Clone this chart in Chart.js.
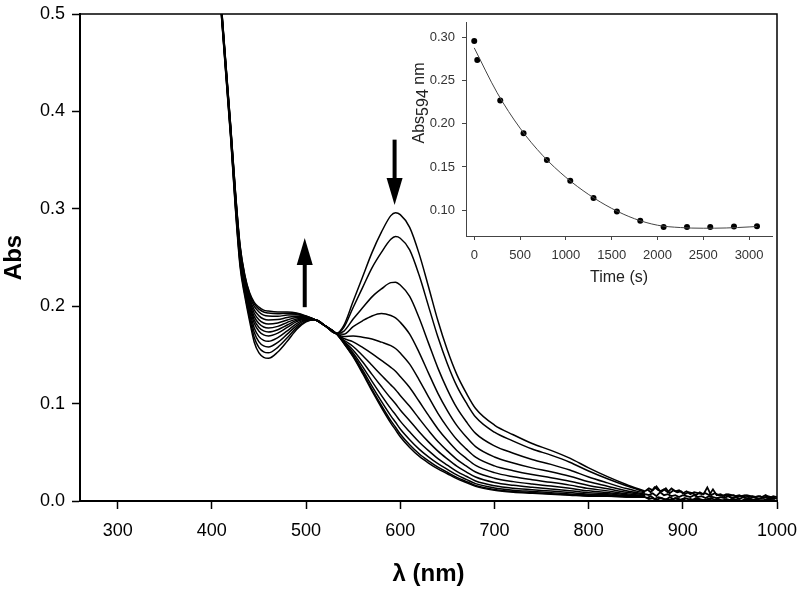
<!DOCTYPE html>
<html><head><meta charset="utf-8">
<script src="https://cdn.jsdelivr.net/npm/chart.js@4"></script>
<style>
html,body{margin:0;padding:0;background:#fff;}
#wrap{position:relative;width:800px;height:591px;overflow:hidden;}
#main{position:absolute;left:0;top:0;}
#inset{position:absolute;left:400px;top:0;}
</style></head><body>
<div id="wrap"><canvas id="main" width="800" height="591"></canvas><canvas id="inset" width="400" height="300"></canvas></div>
<script>
// ---------- main spectra data ----------
const wavelengths = [400,410,420,425,430,435,440,445,450,455,460,470,480,490,500,510,520,532,540,550,560,570,580,590,595,600,610,620,630,640,650,660,670,680,700,720,740,760,780,800,820,840,860];

const spectrum01 = [.65,.500,.372,.300,.240,.210,.185,.163,.152,.1475,.1465,.153,.164,.176,.184,.186,.180,.172,.180,.205,.230,.255,.276,.293,.296,.294,.281,.254,.220,.185,.155,.130,.111,.095,.078,.068,.059,.052,.044,.034,.025,.017,.010];
const spectrum02 = [.65,.501,.3735,.302,.2426,.2126,.1884,.1678,.1575,.1531,.1521,.1578,.1675,.1780,.1847,.186,.180,.172,.1780,.1987,.2191,.2394,.2553,.2687,.2715,.2698,.2579,.2320,.2001,.1683,.1410,.1182,.1009,.0862,.0706,.0615,.0534,.0471,.0398,.0308,.0228,.0156,.0093];
const spectrum03 = [.65,.502,.375,.3044,.2453,.2153,.1920,.1729,.1634,.1592,.1582,.1629,.1713,.1801,.1855,.186,.180,.172,.1742,.1868,.1983,.2096,.2177,.2242,.2246,.2217,.2100,.1881,.1621,.1364,.1144,.0958,.0816,.0694,.0566,.0491,.0427,.0376,.0318,.0247,.0186,.0128,.0081];
const spectrum04 = [.65,.504,.377,.3064,.2479,.2179,.1954,.1777,.1688,.1649,.1639,.1677,.1747,.1821,.1861,.186,.180,.172,.1712,.1790,.1850,.1900,.1925,.1905,.1880,.1835,.1713,.1526,.1313,.1105,.0928,.0776,.0659,.0558,.0452,.0391,.0340,.0300,.0254,.0198,.0152,.0106,.0071];
const spectrum05 = [.65,.505,.378,.3085,.2504,.2204,.1988,.1824,.1743,.1705,.1695,.1724,.1782,.1841,.1868,.186,.180,.172,.1688,.1694,.1681,.1663,.1631,.1595,.1566,.1519,.1405,.1244,.1069,.0900,.0756,.0631,.0535,.0450,.0361,.0311,.0271,.0239,.0203,.0159,.0125,.0089,.0063];
const spectrum06 = [.65,.506,.379,.310,.2523,.2223,.2012,.1859,.1782,.1746,.1736,.1759,.1807,.1855,.1873,.186,.180,.172,.1669,.1634,.1577,.1513,.1443,.1372,.1332,.1278,.1166,.1024,.0879,.0740,.0623,.0519,.0438,.0366,.0291,.0249,.0218,.0192,.0163,.0128,.0104,.0075,.0056];
const spectrum07 = [.65,.506,.380,.3116,.2541,.2241,.2036,.1893,.1822,.1786,.1776,.1793,.1833,.1869,.1879,.186,.180,.172,.1653,.1586,.1493,.1393,.1291,.1192,.1143,.1084,.0972,.0847,.0725,.0611,.0515,.0428,.0360,.0298,.0234,.0199,.0174,.0153,.0130,.0104,.0087,.0064,.0051];
const spectrum08 = [.65,.507,.381,.313,.256,.226,.2061,.1928,.1861,.1827,.1817,.1828,.1858,.1883,.1884,.186,.180,.172,.1642,.1548,.1429,.1300,.1175,.1054,.0998,.0935,.0824,.0711,.0607,.0512,.0432,.0358,.0300,.0246,.0190,.0161,.0141,.0124,.0106,.0085,.0074,.0056,.0047];
const spectrum09 = [.65,.508,.3825,.3146,.2578,.2278,.2085,.1963,.1901,.1868,.1858,.1863,.1883,.1898,.1889,.186,.180,.172,.1633,.1520,.1379,.1229,.1085,.0948,.0886,.0820,.0710,.0606,.0517,.0436,.0369,.0305,.0254,.0206,.0157,.0131,.0116,.0102,.0087,.0070,.0064,.0049,.0044];
const spectrum10 = [.65,.509,.3835,.3161,.2597,.2297,.2110,.1997,.1941,.1909,.1899,.1897,.1909,.1912,.1894,.186,.180,.172,.1626,.1500,.1345,.1180,.1023,.0874,.0808,.0740,.0630,.0533,.0453,.0383,.0325,.0268,.0222,.0178,.0134,.0111,.0098,.0086,.0073,.0060,.0057,.0045,.0042];
const spectrum11 = [.65,.510,.3845,.3172,.2611,.2311,.2128,.2023,.1970,.1940,.1930,.1923,.1927,.1923,.1897,.186,.180,.172,.1622,.1487,.1322,.1147,.0982,.0825,.0757,.0688,.0577,.0485,.0412,.0348,.0295,.0243,.0201,.0160,.0118,.0097,.0086,.0075,.0065,.0054,.0052,.0042,.0041];
const spectrum12 = [.65,.510,.385,.318,.262,.232,.214,.204,.199,.196,.195,.194,.194,.193,.190,.186,.180,.172,.162,.148,.131,.113,.096,.080,.073,.066,.055,.046,.039,.033,.028,.023,.019,.015,.011,.009,.008,.007,.006,.005,.005,.004,.004];

// noisy baseline beyond ~860 nm
const tailWavelengthsA = [860,864,868,872,876,880,884,888,892,896,900,904,908,912,916,920,924,928,932,936,940,944,948,952,956,960,964,968,972,976,980,984,988,992,996,1000];
const tailWavelengthsB = [862,866,870,874,878,882,886,890,894,898,902,906,910,914,918,922,926,930,934,938,942,946,950,954,958,962,966,970,974,978,982,986,990,994,998];
const tailUpperA  = [.010,.013,.011,.015,.010,.012,.009,.013,.010,.011,.008,.010,.007,.009,.008,.007,.008,.006,.012,.006,.007,.005,.007,.006,.005,.006,.004,.006,.005,.004,.005,.004,.006,.003,.005,.004];
const tailMiddleA = [.007,.006,.008,.005,.009,.006,.007,.005,.006,.004,.006,.005,.004,.006,.004,.005,.003,.005,.004,.003,.004,.003,.005,.003,.004,.002,.004,.003,.003,.004,.002,.003,.004,.002,.003,.003];
const tailLowerA  = [.004,.002,.003,.001,.003,.002,.002,.001,.003,.001,.002,.000,.002,.001,.002,.001,.001,.002,.000,.002,.001,.001,.000,.002,.001,.001,.000,.001,.002,.000,.001,.001,.000,.001,.001,.000];
const tailUpperB  = [.012,.009,.014,.011,.010,.013,.008,.011,.009,.010,.007,.009,.008,.006,.009,.007,.014,.006,.008,.006,.005,.007,.005,.006,.004,.005,.006,.004,.005,.004,.005,.003,.005,.004,.003];
const tailLowerB  = [.003,.005,.002,.004,.003,.001,.004,.002,.003,.001,.003,.002,.001,.003,.002,.001,.002,.003,.001,.002,.000,.002,.001,.002,.001,.000,.002,.001,.001,.002,.000,.001,.002,.001,.001];

const xTickValues = [300,400,500,600,700,800,900,1000];
const yTickValues = [0,0.1,0.2,0.3,0.4,0.5];

// arrows (annotation, in data coordinates: wavelength, from Abs, to Abs)
const arrows = [
  {wl: 498.6, from: 0.199, to: 0.270},
  {wl: 594.0, from: 0.371, to: 0.304}
];

// ---------- inset data ----------
const timeS  = [0, 33, 284, 538, 793, 1048, 1302, 1557, 1812, 2067, 2322, 2576, 2835, 3086];
const abs594 = [0.296, 0.274, 0.227, 0.189, 0.158, 0.134, 0.114, 0.0985, 0.0876, 0.0803, 0.0803, 0.0803, 0.081, 0.0813];
const fitTime = [0, 250, 500, 750, 1000, 1250, 1500, 1750, 2000, 2250, 2500, 2750, 3000, 3086];
const fitAbs  = [0.288, 0.236, 0.195, 0.163, 0.138, 0.118, 0.102, 0.090, 0.0825, 0.0798, 0.0790, 0.0793, 0.0805, 0.081];
const insetXTicks = [0,500,1000,1500,2000,2500,3000];
const insetYTicks = [0.10,0.15,0.20,0.25,0.30];
const insetYTitle = [{text:'Abs', sub:false},{text:'594', sub:true},{text:' nm', sub:false}];

// ---------- build main chart ----------
const FONT = '"Liberation Sans", Arial, sans-serif';
const spectra = [spectrum01,spectrum02,spectrum03,spectrum04,spectrum05,spectrum06,spectrum07,spectrum08,spectrum09,spectrum10,spectrum11,spectrum12];
const mainSets = spectra.map(s => ({
  data: wavelengths.map((w,i)=>({x:w, y:s[i]})),
  borderColor:'#000', borderWidth:1.5, pointRadius:0, fill:false,
  cubicInterpolationMode:'monotone'
}));
[[tailWavelengthsA, tailUpperA],[tailWavelengthsA, tailMiddleA],[tailWavelengthsA, tailLowerA],
 [tailWavelengthsB, tailUpperB],[tailWavelengthsB, tailLowerB]].forEach(([xs, t]) => mainSets.push({
  data: xs.map((w,i)=>({x:w, y:t[i]})),
  borderColor:'#000', borderWidth:1.8, pointRadius:0, fill:false, tension:0
}));

const noScalePad = s => { s.paddingTop = 0; s.paddingBottom = 0; s.paddingLeft = 0; s.paddingRight = 0; };

const framePlugin = {
  id:'frame',
  afterDatasetsDraw(chart){
    const {ctx, chartArea:a, scales} = chart;
    const xs = scales.x, ys = scales.y;
    ctx.save();
    ctx.fillStyle = '#000'; ctx.strokeStyle = '#000';
    arrows.forEach(ar => {
      const x = xs.getPixelForValue(ar.wl);
      const y0 = ys.getPixelForValue(ar.from);
      const y1 = ys.getPixelForValue(ar.to);
      const dir = Math.sign(y1 - y0);
      const headLen = 27, headHalf = 8;
      ctx.lineWidth = 4; ctx.lineCap = 'butt';
      ctx.beginPath(); ctx.moveTo(x, y0); ctx.lineTo(x, y1 - dir*headLen + dir*2); ctx.stroke();
      ctx.beginPath();
      ctx.moveTo(x, y1);
      ctx.lineTo(x - headHalf, y1 - dir*headLen);
      ctx.lineTo(x + headHalf, y1 - dir*headLen);
      ctx.closePath(); ctx.fill();
    });
    ctx.lineWidth = 1.5;
    ctx.beginPath();
    ctx.moveTo(a.left, a.top); ctx.lineTo(a.right, a.top); ctx.lineTo(a.right, a.bottom);
    ctx.stroke();
    ctx.restore();
  }
};

new Chart(document.getElementById('main'), {
  type:'line',
  data:{datasets: mainSets},
  options:{
    responsive:false, animation:false, devicePixelRatio:1,
    layout:{padding:{top:14, right:23, left:0, bottom:0}},
    plugins:{legend:{display:false}, tooltip:{enabled:false}},
    scales:{
      x:{
        type:'linear', min:260, max:1000,
        afterBuildTicks: s => { s.ticks = xTickValues.map(v=>({value:v})); },
        afterFit: s => { s.height = 90; noScalePad(s); },
        grid:{display:true, drawOnChartArea:false, drawTicks:true, tickLength:8, tickWidth:1.5, tickColor:'#000'},
        border:{display:true, color:'#000', width:2},
        ticks:{font:{family:FONT, size:18}, color:'#000', padding:11, maxRotation:0, autoSkip:false, callback: v => String(v)},
        title:{display:true, text:'λ (nm)', font:{family:FONT, size:24, weight:'bold'}, color:'#000', padding:{top:0, bottom:2}}
      },
      y:{
        type:'linear', min:0, max:0.5,
        afterBuildTicks: s => { s.ticks = yTickValues.map(v=>({value:v})); },
        afterFit: s => { s.width = 80; noScalePad(s); },
        grid:{display:true, drawOnChartArea:false, drawTicks:true, tickLength:8, tickWidth:1.5, tickColor:'#000'},
        border:{display:true, color:'#000', width:2},
        ticks:{font:{family:FONT, size:18}, color:'#000', padding:7, callback: v => Number(v).toFixed(1)},
        title:{display:true, text:'Abs', font:{family:FONT, size:24, weight:'bold'}, color:'#000', padding:{top:0, bottom:0}}
      }
    }
  },
  plugins:[framePlugin]
});

// ---------- inset chart ----------
const insetTitlePlugin = {
  id:'insetTitle',
  afterDraw(chart){
    const ctx = chart.ctx;
    ctx.save();
    ctx.font = '16px ' + FONT;
    ctx.fillStyle = '#222';
    ctx.textBaseline = 'alphabetic';
    const widths = insetYTitle.map(p => ctx.measureText(p.text).width);
    const total = widths.reduce((a,b)=>a+b,0);
    ctx.translate(24, 103);
    ctx.rotate(-Math.PI/2);
    let x = -total/2;
    insetYTitle.forEach((p,i) => { ctx.fillText(p.text, x, p.sub ? 4 : 0); x += widths[i]; });
    ctx.restore();
  }
};

new Chart(document.getElementById('inset'), {
  type:'scatter',
  data:{datasets:[
    {data: fitTime.map((t,i)=>({x:t, y:fitAbs[i]})), showLine:true, borderColor:'#444', borderWidth:1, pointRadius:0, cubicInterpolationMode:'monotone', fill:false},
    {data: timeS.map((t,i)=>({x:t, y:abs594[i]})), showLine:false, pointRadius:3, pointBackgroundColor:'#000', pointBorderColor:'#000', pointBorderWidth:0}
  ]},
  options:{
    responsive:false, animation:false, devicePixelRatio:1,
    layout:{padding:{top:22, right:28, left:0, bottom:0}},
    plugins:{legend:{display:false}, tooltip:{enabled:false}},
    scales:{
      x:{
        type:'linear', min:-90, max:3250,
        afterBuildTicks: s => { s.ticks = insetXTicks.map(v=>({value:v})); },
        afterFit: s => { s.height = 64; noScalePad(s); },
        grid:{display:true, drawOnChartArea:false, drawTicks:true, tickLength:4, tickWidth:1, tickColor:'#444'},
        border:{display:true, color:'#444', width:1},
        ticks:{font:{family:FONT, size:13}, color:'#333', padding:8, maxRotation:0, autoSkip:false, callback: v => String(v)},
        title:{display:true, text:'Time (s)', font:{family:FONT, size:16}, color:'#222', padding:{top:0, bottom:13}}
      },
      y:{
        type:'linear', min:0.07, max:0.318,
        afterBuildTicks: s => { s.ticks = insetYTicks.map(v=>({value:v})); },
        afterFit: s => { s.width = 66; noScalePad(s); },
        grid:{display:true, drawOnChartArea:false, drawTicks:true, tickLength:4, tickWidth:1, tickColor:'#444'},
        border:{display:true, color:'#444', width:1},
        ticks:{font:{family:FONT, size:13}, color:'#333', padding:7, callback: v => Number(v).toFixed(2)}
      }
    }
  },
  plugins:[insetTitlePlugin]
});
</script>
</body></html>
